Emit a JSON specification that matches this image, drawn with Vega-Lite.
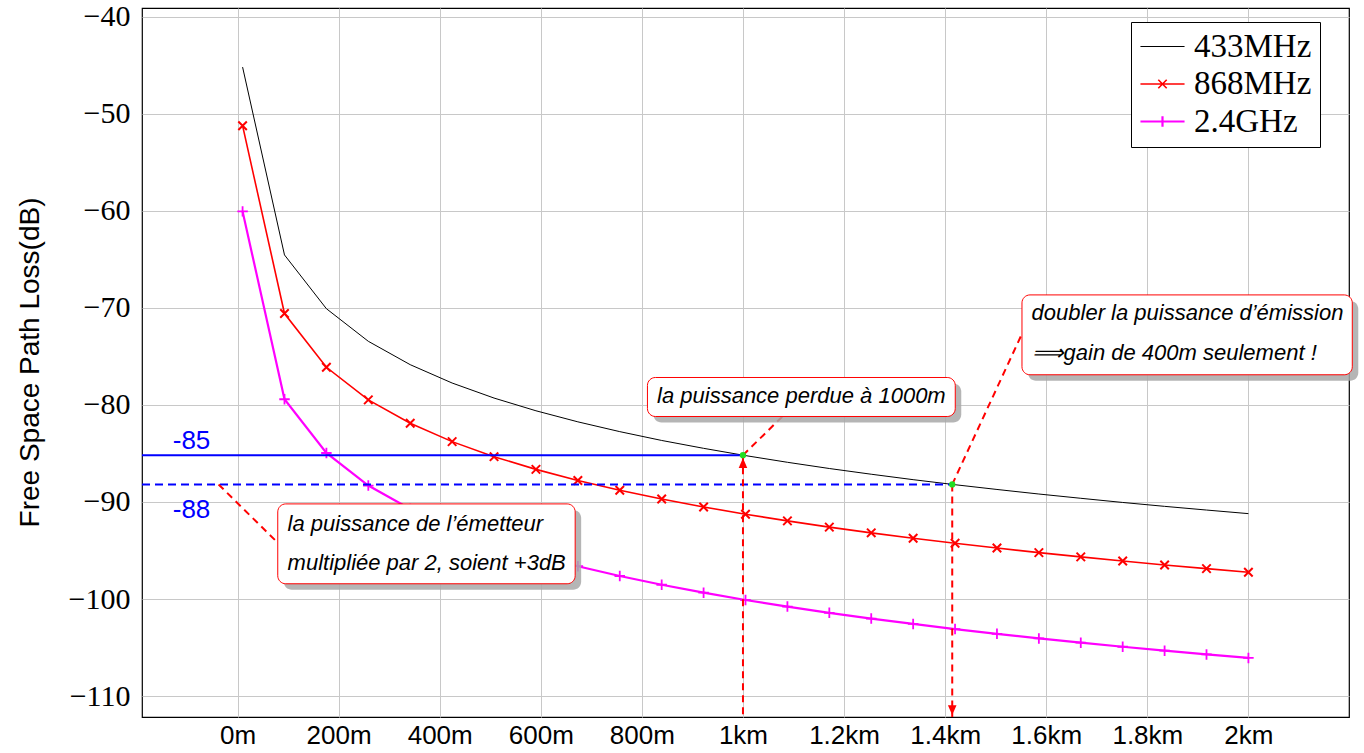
{
  "$schema": "https://vega.github.io/schema/vega-lite/v6.json",
  "width": 1207,
  "height": 709,
  "autosize": {"type": "none"},
  "padding": {"left": 142, "top": 8, "right": 15, "bottom": 36},
  "background": "white",
  "config": {
    "view": {"stroke": "black", "strokeWidth": 1.2},
    "axis": {"domain": false, "ticks": false, "gridColor": "#c8c8c8", "gridWidth": 1, "gridOpacity": 1, "labelColor": "black", "titleColor": "black"}
  },
  "datasets": {
    "fspl": [
      {"s": "433MHz", "x": 10, "y": -45.18}, {"s": "433MHz", "x": 92.92, "y": -64.54}, {"s": "433MHz", "x": 175.83, "y": -70.08}, {"s": "433MHz", "x": 258.75, "y": -73.44}, {"s": "433MHz", "x": 341.67, "y": -75.85}, {"s": "433MHz", "x": 424.58, "y": -77.74}, {"s": "433MHz", "x": 507.5, "y": -79.29}, {"s": "433MHz", "x": 590.42, "y": -80.6}, {"s": "433MHz", "x": 673.33, "y": -81.74}, {"s": "433MHz", "x": 756.25, "y": -82.75}, {"s": "433MHz", "x": 839.17, "y": -83.66}, {"s": "433MHz", "x": 922.08, "y": -84.47}, {"s": "433MHz", "x": 1005, "y": -85.22}, {"s": "433MHz", "x": 1087.92, "y": -85.91}, {"s": "433MHz", "x": 1170.83, "y": -86.55}, {"s": "433MHz", "x": 1253.75, "y": -87.14}, {"s": "433MHz", "x": 1336.67, "y": -87.7}, {"s": "433MHz", "x": 1419.58, "y": -88.22}, {"s": "433MHz", "x": 1502.5, "y": -88.71}, {"s": "433MHz", "x": 1585.42, "y": -89.18}, {"s": "433MHz", "x": 1668.33, "y": -89.62}, {"s": "433MHz", "x": 1751.25, "y": -90.05}, {"s": "433MHz", "x": 1834.17, "y": -90.45}, {"s": "433MHz", "x": 1917.08, "y": -90.83}, {"s": "433MHz", "x": 2000, "y": -91.2},
      {"s": "868MHz", "x": 10, "y": -51.22}, {"s": "868MHz", "x": 92.92, "y": -70.58}, {"s": "868MHz", "x": 175.83, "y": -76.12}, {"s": "868MHz", "x": 258.75, "y": -79.48}, {"s": "868MHz", "x": 341.67, "y": -81.89}, {"s": "868MHz", "x": 424.58, "y": -83.78}, {"s": "868MHz", "x": 507.5, "y": -85.33}, {"s": "868MHz", "x": 590.42, "y": -86.64}, {"s": "868MHz", "x": 673.33, "y": -87.78}, {"s": "868MHz", "x": 756.25, "y": -88.79}, {"s": "868MHz", "x": 839.17, "y": -89.7}, {"s": "868MHz", "x": 922.08, "y": -90.51}, {"s": "868MHz", "x": 1005, "y": -91.26}, {"s": "868MHz", "x": 1087.92, "y": -91.95}, {"s": "868MHz", "x": 1170.83, "y": -92.59}, {"s": "868MHz", "x": 1253.75, "y": -93.18}, {"s": "868MHz", "x": 1336.67, "y": -93.74}, {"s": "868MHz", "x": 1419.58, "y": -94.26}, {"s": "868MHz", "x": 1502.5, "y": -94.75}, {"s": "868MHz", "x": 1585.42, "y": -95.22}, {"s": "868MHz", "x": 1668.33, "y": -95.66}, {"s": "868MHz", "x": 1751.25, "y": -96.09}, {"s": "868MHz", "x": 1834.17, "y": -96.49}, {"s": "868MHz", "x": 1917.08, "y": -96.87}, {"s": "868MHz", "x": 2000, "y": -97.24},
      {"s": "2.4GHz", "x": 10, "y": -60.05}, {"s": "2.4GHz", "x": 92.92, "y": -79.41}, {"s": "2.4GHz", "x": 175.83, "y": -84.95}, {"s": "2.4GHz", "x": 258.75, "y": -88.31}, {"s": "2.4GHz", "x": 341.67, "y": -90.72}, {"s": "2.4GHz", "x": 424.58, "y": -92.61}, {"s": "2.4GHz", "x": 507.5, "y": -94.16}, {"s": "2.4GHz", "x": 590.42, "y": -95.48}, {"s": "2.4GHz", "x": 673.33, "y": -96.62}, {"s": "2.4GHz", "x": 756.25, "y": -97.63}, {"s": "2.4GHz", "x": 839.17, "y": -98.53}, {"s": "2.4GHz", "x": 922.08, "y": -99.35}, {"s": "2.4GHz", "x": 1005, "y": -100.1}, {"s": "2.4GHz", "x": 1087.92, "y": -100.78}, {"s": "2.4GHz", "x": 1170.83, "y": -101.42}, {"s": "2.4GHz", "x": 1253.75, "y": -102.02}, {"s": "2.4GHz", "x": 1336.67, "y": -102.57}, {"s": "2.4GHz", "x": 1419.58, "y": -103.1}, {"s": "2.4GHz", "x": 1502.5, "y": -103.59}, {"s": "2.4GHz", "x": 1585.42, "y": -104.06}, {"s": "2.4GHz", "x": 1668.33, "y": -104.5}, {"s": "2.4GHz", "x": 1751.25, "y": -104.92}, {"s": "2.4GHz", "x": 1834.17, "y": -105.32}, {"s": "2.4GHz", "x": 1917.08, "y": -105.71}, {"s": "2.4GHz", "x": 2000, "y": -106.07}
    ],
    "boxes": [
      {"x": 811, "x2": 1420, "y": -77.17, "y2": -81.19},
      {"x": 79.6, "x2": 668, "y": -90.2, "y2": -98.43},
      {"x": 1552, "x2": 2205.5, "y": -68.66, "y2": -76.89}
    ],
    "texts": [
      {"x": 830, "y": -79.06, "t": "la puissance perdue à 1000m"},
      {"x": 99, "y": -92.23, "t": "la puissance de l’émetteur"},
      {"x": 99, "y": -96.24, "t": "multipliée par 2, soient +3dB"},
      {"x": 1571, "y": -70.48, "t": "doubler la puissance d’émission"},
      {"x": 1571, "y": -74.6, "t": "⟹gain de 400m seulement !"}
    ],
    "connectors": [
      {"x": 1000, "y": -85.18, "x2": 1000, "y2": -112.16},
      {"x": 1414, "y": -88.19, "x2": 1414, "y2": -112.16},
      {"x": 1000, "y": -85.18, "x2": 1078, "y2": -81.19},
      {"x": 1414, "y": -88.19, "x2": 1552, "y2": -72.67},
      {"x": -37.5, "y": -88.19, "x2": 79.6, "y2": -94.2}
    ],
    "hits": [
      {"x": 1000, "y": -85.18},
      {"x": 1414, "y": -88.19}
    ]
  },
  "encoding": {
    "x": {
      "field": "x", "type": "quantitative",
      "scale": {"domain": [-189, 2199], "nice": false, "zero": false},
      "axis": {
        "title": null, "values": [0, 200, 400, 600, 800, 1000, 1200, 1400, 1600, 1800, 2000],
        "labelExpr": "datum.value < 1000 ? datum.value + 'm' : (datum.value / 1000) + 'km'",
        "labelFont": "Liberation Sans", "labelFontSize": 26, "labelPadding": 5
      }
    },
    "y": {
      "field": "y", "type": "quantitative",
      "scale": {"domain": [-112.16, -39.09], "nice": false, "zero": false},
      "axis": {
        "values": [-110, -100, -90, -80, -70, -60, -50, -40],
        "labelFont": "Liberation Serif", "labelFontSize": 30, "labelPadding": 12,
        "title": "Free Space Path Loss(dB)", "titleFont": "Liberation Sans", "titleFontSize": 28,
        "titleFontWeight": "normal", "titleAngle": -90, "titleX": -112, "titleY": 354,
        "titleAlign": "center", "titleBaseline": "middle"
      }
    }
  },
  "layer": [
    {
      "data": {"name": "fspl"},
      "mark": {"type": "line"},
      "encoding": {
        "color": {
          "field": "s", "type": "nominal",
          "scale": {"domain": ["433MHz", "868MHz", "2.4GHz"], "range": ["#000000", "#ff0000", "#ff00ff"]},
          "legend": {
            "title": null, "orient": "none", "legendX": 989, "legendY": 14,
            "strokeColor": "black", "fillColor": "white", "padding": 8,
            "labelFont": "Liberation Serif", "labelFontSize": 33, "labelColor": "black",
            "symbolSize": 900, "rowPadding": 3.5, "labelOffset": 15, "symbolOffset": 7
          }
        },
        "strokeWidth": {
          "field": "s", "type": "ordinal",
          "scale": {"domain": ["433MHz", "868MHz", "2.4GHz"], "range": [1, 2.2, 2.2]}
        }
      }
    },
    {
      "data": {"name": "fspl"},
      "mark": {"type": "point", "opacity": 0, "filled": false},
      "encoding": {
        "color": {"field": "s", "type": "nominal"},
        "shape": {
          "field": "s", "type": "nominal",
          "scale": {
            "domain": ["433MHz", "868MHz", "2.4GHz"],
            "range": [
              "M-1.47,0H1.47",
              "M-1.47,0H1.47M-0.28,-0.28L0.28,0.28M-0.28,0.28L0.28,-0.28",
              "M-1.47,0H1.47M0,-0.35V0.35"
            ]
          }
        }
      }
    },
    {
      "data": {"name": "fspl"},
      "transform": [{"filter": "datum.s == '868MHz'"}],
      "mark": {"type": "point", "shape": "M-1,-1L1,1M-1,1L1,-1", "size": 72, "filled": false, "color": "#ff0000", "stroke": "#ff0000", "strokeWidth": 2, "opacity": 1}
    },
    {
      "data": {"name": "fspl"},
      "transform": [{"filter": "datum.s == '2.4GHz'"}],
      "mark": {"type": "point", "shape": "M-1,0H1M0,-1V1", "size": 110, "filled": false, "color": "#ff00ff", "stroke": "#ff00ff", "strokeWidth": 1.8, "opacity": 1}
    },
    {
      "data": {"values": [{"x": -189, "x2": 1000, "y": -85.18}]},
      "mark": {"type": "rule", "color": "#0000ff", "strokeWidth": 2},
      "encoding": {"x2": {"field": "x2"}}
    },
    {
      "data": {"values": [{"x": -189, "x2": 1414, "y": -88.19}]},
      "mark": {"type": "rule", "color": "#0000ff", "strokeWidth": 2, "strokeDash": [8, 5]},
      "encoding": {"x2": {"field": "x2"}}
    },
    {
      "data": {"values": [{"x": -91, "y": -83.69, "t": "-85"}, {"x": -91, "y": -90.79, "t": "-88"}]},
      "mark": {"type": "text", "font": "Liberation Sans", "fontSize": 26, "color": "#0000ff", "align": "center", "baseline": "middle"},
      "encoding": {"text": {"field": "t"}}
    },
    {
      "data": {"name": "connectors"},
      "mark": {"type": "rule", "color": "#ff0000", "strokeWidth": 2, "strokeDash": [7, 5]},
      "encoding": {"x2": {"field": "x2"}, "y2": {"field": "y2"}}
    },
    {
      "data": {"values": [{"x": 1000, "y": -85.18}]},
      "mark": {"type": "point", "shape": "M0,-1L0.7,0.6L-0.7,0.6Z", "size": 150, "filled": true, "color": "#ff0000", "opacity": 1, "yOffset": 9}
    },
    {
      "data": {"values": [{"x": 1414, "y": -112.16}]},
      "mark": {"type": "point", "shape": "M0,1L0.7,-0.6L-0.7,-0.6Z", "size": 150, "filled": true, "color": "#ff0000", "opacity": 1, "yOffset": -8}
    },
    {
      "data": {"name": "hits"},
      "mark": {"type": "point", "shape": "circle", "size": 40, "filled": true, "color": "#22dd22", "opacity": 1}
    },
    {
      "data": {"name": "boxes"},
      "mark": {"type": "rect", "fill": "#a8a8a8", "opacity": 0.85, "cornerRadius": 8, "xOffset": 6, "yOffset": 6, "x2Offset": 6, "y2Offset": 6},
      "encoding": {"x2": {"field": "x2"}, "y2": {"field": "y2"}}
    },
    {
      "data": {"name": "boxes"},
      "mark": {"type": "rect", "fill": "white", "stroke": "#ff0000", "strokeWidth": 1, "cornerRadius": 8, "opacity": 1},
      "encoding": {"x2": {"field": "x2"}, "y2": {"field": "y2"}}
    },
    {
      "data": {"name": "texts"},
      "mark": {"type": "text", "font": "Liberation Sans", "fontSize": 22, "fontStyle": "italic", "color": "black", "align": "left", "baseline": "middle"},
      "encoding": {"text": {"field": "t"}}
    }
  ]
}
